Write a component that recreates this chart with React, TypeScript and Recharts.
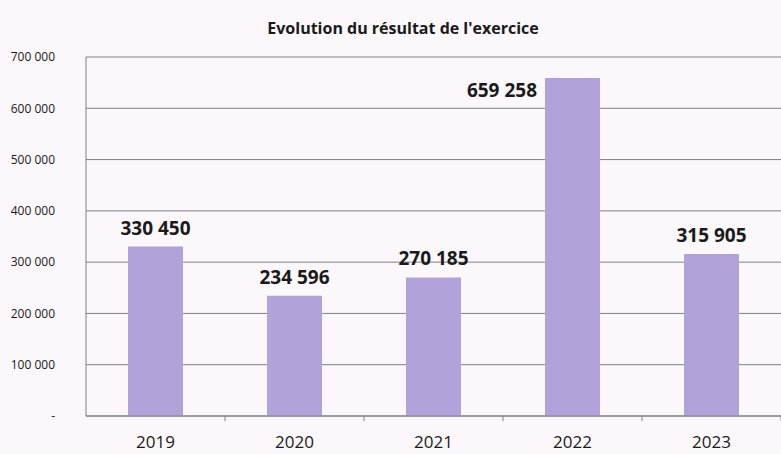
import { BarChart, Bar, XAxis, YAxis, CartesianGrid, LabelList } from 'recharts';

const years = ['2019', '2020', '2021', '2022', '2023'];
const results = [330450, 234596, 270185, 659258, 315905];
const yTicks = [0, 100000, 200000, 300000, 400000, 500000, 600000, 700000];

const data = years.map((year, i) => ({ year, value: results[i] }));

const font = '"Open Sans", "Liberation Sans", sans-serif';
const fmt = (v: number) => (v === 0 ? '-' : v.toLocaleString('fr-FR').replace(/\s/g, ' '));

const XTick = (props: any) => {
  const { x, y, payload } = props;
  const half = payload.offset || 0;
  return (
    <g>
      <line x1={x + half} y1={y - 8} x2={x + half} y2={y - 3} stroke="#808080" />
      <text x={x} y={y + 24} textAnchor="middle" fontSize={17} fill="#1a1a1a" fontFamily={font}>
        {payload.value}
      </text>
    </g>
  );
};

// labels sit above the bar, except when the bar nearly reaches the top: then to its left
const ValueLabel = (props: any) => {
  const { x, y, width, value } = props;
  const nearTop = value > 600000;
  return (
    <text
      x={nearTop ? x - 8 : x + width / 2}
      y={nearTop ? y + 19 : y - 12}
      textAnchor={nearTop ? 'end' : 'middle'}
      fontSize={19}
      fontWeight="bold"
      fill="#1a1a1a"
      fontFamily={font}
    >
      {fmt(value)}
    </text>
  );
};

export default function App() {
  return (
    <div style={{ position: 'absolute', left: 0, top: 0, width: 781, height: 454, background: '#fbf7fb' }}>
      <div
        style={{
          position: 'absolute',
          left: 0,
          top: 17,
          width: 806,
          textAlign: 'center',
          fontFamily: font,
          fontWeight: 'bold',
          fontSize: 16,
          color: '#1a1a1a',
        }}
      >
        Evolution du résultat de l'exercice
      </div>
      <BarChart
        width={781}
        height={454}
        data={data}
        margin={{ top: 57, right: 0, bottom: 0, left: 0 }}
        barCategoryGap="30%"
      >
        <CartesianGrid vertical={false} stroke="#808080" />
        <XAxis
          dataKey="year"
          height={38}
          stroke="#808080"
          tickLine={false}
          tick={<XTick />}
        />
        <YAxis
          width={86}
          domain={[0, 700000]}
          ticks={yTicks}
          tickFormatter={fmt}
          tickLine={false}
          tickMargin={25}
          stroke="#808080"
          tick={{ fontSize: 12, fill: '#1a1a1a', fontFamily: font }}
        />
        <Bar dataKey="value" fill="#b1a3d9" barSize={55} isAnimationActive={false}>
          <LabelList dataKey="value" content={<ValueLabel />} />
        </Bar>
      </BarChart>
    </div>
  );
}
